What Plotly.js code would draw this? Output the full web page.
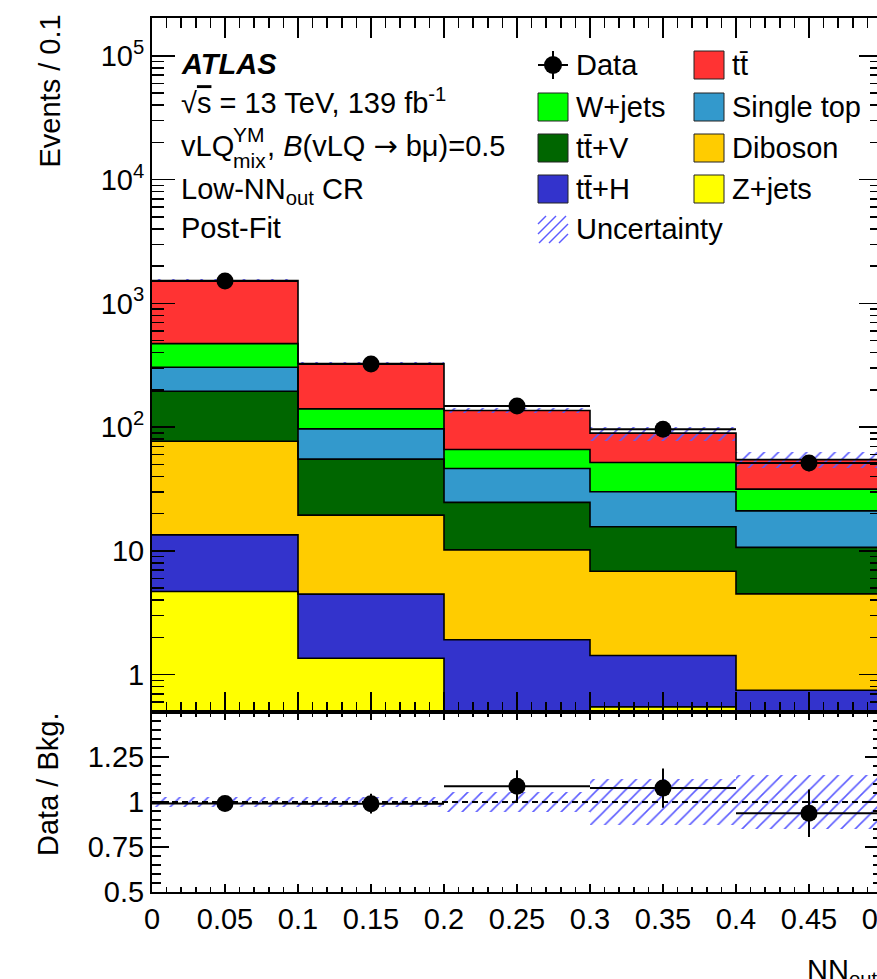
<!DOCTYPE html>
<html>
<head>
<meta charset="utf-8">
<script src="https://cdn.plot.ly/plotly-3.0.1.min.js"></script>
<style>
  html, body { margin: 0; padding: 0; overflow: hidden; background: #fff; }
  #chart { width: 920px; height: 979px; }
</style>
</head>
<body>
<div id="chart"></div>
<script>
// Bin edges of the NN output distribution
const binEdges = [0, 0.1, 0.2, 0.3, 0.4, 0.5];

// Post-fit background yields per bin (events / 0.1)
const zjets     = [4.7, 1.36, 0.45, 0.55, 0.3];
const ttH       = [8.8, 3.12, 1.47, 0.88, 0.45];
const diboson   = [63.5, 15.0, 8.28, 5.43, 3.75];
const ttV       = [118, 35.7, 14.5, 8.84, 6.2];
const singleTop = [110, 41.7, 21.7, 14.4, 10.4];
const wjets     = [168, 43.6, 19.7, 21.8, 10.5];
const ttbar     = [1057, 186.5, 70.5, 37.6, 23.1];

// Observed data and its statistical error
const dataCounts = [1518, 324, 148.5, 96.4, 51.3];
const dataErr    = [39, 18, 12.2, 9.8, 7.2];

// Relative total uncertainty on the background prediction
const relUnc = [0.03, 0.03, 0.055, 0.13, 0.148];

// Axis tick labels
const xTickVals = [0, 0.05, 0.1, 0.15, 0.2, 0.25, 0.3, 0.35, 0.4, 0.45, 0.5];
const xTickText = ['0', '0.05', '0.1', '0.15', '0.2', '0.25', '0.3', '0.35', '0.4', '0.45', '0.5'];
const yTickVals = [1, 10, 100, 1000, 10000, 100000];
const yTickText = ['1', '10', '10<sup>2</sup>', '10<sup>3</sup>', '10<sup>4</sup>', '10<sup>5</sup>'];
const rTickVals = [0.5, 0.75, 1, 1.25];
const rTickText = ['0.5', '0.75', '1', '1.25'];

// Stack definition, bottom to top
const stackNames  = ['Z+jets', 'tt\u0304+H', 'Diboson', 'tt\u0304+V', 'Single top', 'W+jets', 'tt\u0304'];
const stackSeries = [zjets, ttH, diboson, ttV, singleTop, wjets, ttbar];
const stackColors = ['#ffff00', '#3333cc', '#ffcc00', '#006600', '#3399cc', '#00ff00', '#ff3333'];

const FONT = 'Liberation Sans, Arial, Helvetica, sans-serif';
const HATCH = '#5c5cff';
const nBins = binEdges.length - 1;
const centers = [], widths = [], halfW = [];
for (let i = 0; i < nBins; i++) {
  centers.push((binEdges[i] + binEdges[i + 1]) / 2);
  widths.push(binEdges[i + 1] - binEdges[i]);
  halfW.push((binEdges[i + 1] - binEdges[i]) / 2);
}

// cumulative sums of the stack
const cumul = [];
let running = new Array(nBins).fill(0);
stackSeries.forEach(s => {
  running = running.map((v, i) => v + s[i]);
  cumul.push(running.slice());
});
const totalBkg = cumul[cumul.length - 1];

const hatchPattern = { shape: '/', fgcolor: HATCH, fgopacity: 1, bgcolor: 'rgba(0,0,0,0)', size: 10, solidity: 0.16, fillmode: 'overlay' };

const traces = [];
// filled stack: largest cumulative first so smaller ones paint over it
for (let k = cumul.length - 1; k >= 0; k--) {
  traces.push({
    type: 'bar', name: stackNames[k], x: centers, y: cumul[k], width: widths,
    marker: { color: stackColors[k], line: { width: 0 } },
    xaxis: 'x', yaxis: 'y', showlegend: false, hoverinfo: 'skip'
  });
}
// step outlines of each stack level
for (let k = 0; k < cumul.length; k++) {
  traces.push({
    type: 'scatter', mode: 'lines', x: binEdges,
    y: cumul[k].concat([cumul[k][nBins - 1]]),
    line: { color: 'black', width: 1.6, shape: 'hv' },
    xaxis: 'x', yaxis: 'y', showlegend: false, hoverinfo: 'skip'
  });
}
// hatched uncertainty band
traces.push({
  type: 'bar', x: centers, width: widths,
  base: totalBkg.map((b, i) => b * (1 - relUnc[i])),
  y: totalBkg.map((b, i) => 2 * b * relUnc[i]),
  marker: { color: 'rgba(0,0,0,0)', line: { width: 0 }, pattern: hatchPattern },
  xaxis: 'x', yaxis: 'y', showlegend: false, hoverinfo: 'skip'
});
// data points
traces.push({
  type: 'scatter', mode: 'markers', x: centers, y: dataCounts,
  marker: { color: 'black', size: 17 },
  error_y: { type: 'data', array: dataErr, visible: true, color: 'black', thickness: 2, width: 0 },
  error_x: { type: 'data', array: halfW, visible: true, color: 'black', thickness: 2, width: 0 },
  xaxis: 'x', yaxis: 'y', showlegend: false, hoverinfo: 'skip'
});

// ratio panel
traces.push({
  type: 'bar', x: centers, width: widths,
  base: relUnc.map(u => 1 - u),
  y: relUnc.map(u => 2 * u),
  marker: { color: 'rgba(0,0,0,0)', line: { width: 0 }, pattern: hatchPattern },
  xaxis: 'x2', yaxis: 'y2', showlegend: false, hoverinfo: 'skip'
});
traces.push({
  type: 'scatter', mode: 'lines', x: [binEdges[0], binEdges[nBins]], y: [1, 1],
  line: { color: 'black', width: 2, dash: '6px,4px' },
  xaxis: 'x2', yaxis: 'y2', showlegend: false, hoverinfo: 'skip'
});
traces.push({
  type: 'scatter', mode: 'markers', x: centers,
  y: dataCounts.map((d, i) => d / totalBkg[i]),
  marker: { color: 'black', size: 17 },
  error_y: { type: 'data', array: dataErr.map((e, i) => e / totalBkg[i]), visible: true, color: 'black', thickness: 2, width: 0 },
  error_x: { type: 'data', array: halfW, visible: true, color: 'black', thickness: 2, width: 0 },
  xaxis: 'x2', yaxis: 'y2', showlegend: false, hoverinfo: 'skip'
});

// layout geometry (pixels)
const W = 920, H = 979, ML = 152, MR = 38, MT = 18, MB = 87;
const PW = W - ML - MR, PH = H - MT - MB;
const splitY = 712;
const ratioFrac = (H - MB - splitY) / PH;
const px = x => (x - ML) / PW;
const py = y => 1 - (y - MT) / PH;

const minorLog = [];
[0.1, 1, 10, 100, 1000, 10000, 100000].forEach(d => {
  for (let m = 2; m <= 9; m++) minorLog.push(m * d);
});

const annotations = [];
function txt(text, x, y, size, extra) {
  annotations.push(Object.assign({
    text: text, x: px(x), y: py(y), xref: 'paper', yref: 'paper',
    xanchor: 'left', yanchor: 'middle', showarrow: false,
    font: { family: FONT, size: size || 29, color: 'black' }
  }, extra || {}));
}
// labels
txt('<b><i>ATLAS</i></b>', 179, 64);
txt('\u221A<span style="text-decoration:overline">s</span> = 13 TeV, 139 fb<sup>-1</sup>', 179, 101);
txt('vLQ', 179, 146);
txt('YM', 231, 134, 21);
txt('mix', 231, 160, 21);
txt(', <i>B</i>(vLQ <span style="font-family:DejaVu Sans">\u2192</span> b\u03bc)=0.5', 265, 146);
txt('Low-NN<sub>out</sub> CR', 179, 191);
txt('Post-Fit', 179, 228);

// legend
const col1 = 538, col2 = 694, boxW = 30, boxH = 28;
const rows = [65, 107, 148, 189, 229];
txt('Data', 574, rows[0]);
txt('W+jets', 574, rows[1]);
txt('tt\u0304+V', 574, rows[2]);
txt('tt\u0304+H', 574, rows[3]);
txt('Uncertainty', 574, rows[4]);
txt('tt\u0304', 730, rows[0]);
txt('Single top', 730, rows[1]);
txt('Diboson', 730, rows[2]);
txt('Z+jets', 730, rows[3]);

// axis titles
txt('Events / 0.1', 49, 91.5, 29, { textangle: -90, xanchor: 'center' });
txt('Data / Bkg.', 48, 785, 29, { textangle: -90, xanchor: 'center' });
txt('NN<sub>out</sub>', 805, 972);

const shapes = [];
function box(x, yc, color) {
  shapes.push({ type: 'rect', xref: 'paper', yref: 'paper',
    x0: px(x), x1: px(x + boxW), y0: py(yc - boxH / 2), y1: py(yc + boxH / 2),
    fillcolor: color, line: { color: '#222', width: 1 } });
}
box(col1, rows[1], '#00ff00');
box(col1, rows[2], '#006600');
box(col1, rows[3], '#3333cc');
box(col2, rows[0], '#ff3333');
box(col2, rows[1], '#3399cc');
box(col2, rows[2], '#ffcc00');
box(col2, rows[3], '#ffff00');
// data legend symbol
shapes.push({ type: 'line', xref: 'paper', yref: 'paper', x0: px(col1), x1: px(col1 + boxW), y0: py(rows[0]), y1: py(rows[0]), line: { color: 'black', width: 2 } });
shapes.push({ type: 'line', xref: 'paper', yref: 'paper', x0: px(col1 + boxW / 2), x1: px(col1 + boxW / 2), y0: py(rows[0] - 14), y1: py(rows[0] + 14), line: { color: 'black', width: 2 } });
shapes.push({ type: 'circle', xref: 'paper', yref: 'paper', x0: px(col1 + boxW / 2 - 9), x1: px(col1 + boxW / 2 + 9), y0: py(rows[0] - 9), y1: py(rows[0] + 9), fillcolor: 'black', line: { color: 'black', width: 0 } });
// hatched legend symbol
{
  const x0 = col1, x1 = col1 + boxW, y0 = rows[4] - 13, y1 = rows[4] + 14;
  for (let c = x0 + y0 + 8; c < x1 + y1; c += 10) {
    const xa = Math.max(x0, c - y1), xb = Math.min(x1, c - y0);
    if (xb <= xa) continue;
    shapes.push({ type: 'line', xref: 'paper', yref: 'paper',
      x0: px(xa), y0: py(c - xa), x1: px(xb), y1: py(c - xb),
      line: { color: HATCH, width: 1.4 } });
  }
}

const tickFont = { family: FONT, size: 29, color: 'black' };
const layout = {
  width: W, height: H,
  margin: { l: ML, r: MR, t: MT, b: MB, pad: 0 },
  paper_bgcolor: 'white', plot_bgcolor: 'white',
  barmode: 'overlay', bargap: 0,
  showlegend: false, hovermode: false,
  font: { family: FONT, size: 29, color: 'black' },
  xaxis: {
    domain: [0, 1], anchor: 'y', range: [0, 0.5], showticklabels: false,
    tickmode: 'array', tickvals: xTickVals, ticks: 'inside', ticklen: 20, tickwidth: 1.5, tickcolor: 'black',
    minor: { ticks: 'inside', dtick: 0.01, tick0: 0, ticklen: 10, tickwidth: 1.5, tickcolor: 'black' },
    showline: true, linewidth: 2, linecolor: 'black', mirror: 'ticks',
    showgrid: false, zeroline: false
  },
  yaxis: {
    domain: [ratioFrac, 1], anchor: 'x', type: 'log',
    range: [Math.log10(0.5), 5.306],
    tickmode: 'array', tickvals: yTickVals, ticktext: yTickText, tickfont: tickFont,
    ticks: 'inside', ticklen: 23, tickwidth: 1.5, tickcolor: 'black',
    minor: { ticks: 'inside', tickmode: 'array', tickvals: minorLog, ticklen: 12, tickwidth: 1.5, tickcolor: 'black' },
    showline: true, linewidth: 2, linecolor: 'black', mirror: 'ticks',
    showgrid: false, zeroline: false
  },
  xaxis2: {
    domain: [0, 1], anchor: 'y2', range: [0, 0.5],
    tickmode: 'array', tickvals: xTickVals, ticktext: xTickText, tickfont: tickFont,
    ticks: 'inside', ticklen: 8, tickwidth: 1.5, tickcolor: 'black',
    minor: { ticks: 'inside', dtick: 0.01, tick0: 0, ticklen: 5, tickwidth: 1.5, tickcolor: 'black' },
    showline: true, linewidth: 2, linecolor: 'black', mirror: 'ticks',
    showgrid: false, zeroline: false
  },
  yaxis2: {
    domain: [0, ratioFrac], anchor: 'x2', range: [0.5, 1.5],
    tickmode: 'array', tickvals: rTickVals, ticktext: rTickText, tickfont: tickFont,
    ticks: 'inside', ticklen: 17, tickwidth: 1.5, tickcolor: 'black',
    minor: { ticks: 'inside', dtick: 0.05, tick0: 0.5, ticklen: 9, tickwidth: 1.5, tickcolor: 'black' },
    showline: true, linewidth: 2, linecolor: 'black', mirror: 'ticks',
    showgrid: false, zeroline: false
  },
  annotations: annotations,
  shapes: shapes
};

Plotly.newPlot('chart', traces, layout, { staticPlot: true, displayModeBar: false });
</script>
</body>
</html>
